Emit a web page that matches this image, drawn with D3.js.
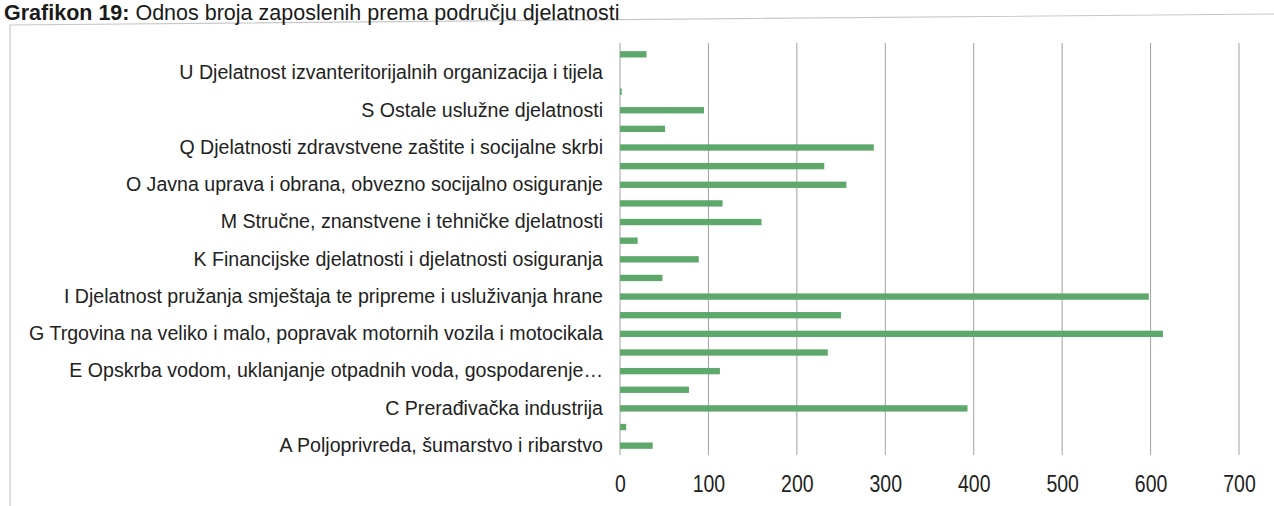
<!DOCTYPE html>
<html>
<head>
<meta charset="utf-8">
<script src="https://cdn.jsdelivr.net/npm/d3@7"></script>
<style>
  html, body { margin: 0; padding: 0; background: #fff; }
  svg { display: block; }
</style>
</head>
<body>
<svg id="chart" width="1274" height="506"></svg>
<script>
// ---- data (bottom to top) ----
const categories = [
  "A Poljoprivreda, šumarstvo i ribarstvo",
  "B Rudarstvo i vađenje",
  "C Prerađivačka industrija",
  "D Opskrba električnom energijom, plinom, parom i klimatizacija",
  "E Opskrba vodom, uklanjanje otpadnih voda, gospodarenje…",
  "F Građevinarstvo",
  "G Trgovina na veliko i malo, popravak motornih vozila i motocikala",
  "H Prijevoz i skladištenje",
  "I Djelatnost pružanja smještaja te pripreme i usluživanja hrane",
  "J Informacije i komunikacije",
  "K Financijske djelatnosti i djelatnosti osiguranja",
  "L Poslovanje nekretninama",
  "M Stručne, znanstvene i tehničke djelatnosti",
  "N Administrativne i pomoćne uslužne djelatnosti",
  "O Javna uprava i obrana, obvezno socijalno osiguranje",
  "P Obrazovanje",
  "Q Djelatnosti zdravstvene zaštite i socijalne skrbi",
  "R Umjetnost, zabava i rekreacija",
  "S Ostale uslužne djelatnosti",
  "T Djelatnosti kućanstava kao poslodavaca",
  "U Djelatnost izvanteritorijalnih organizacija i tijela",
  "Nepoznato"
];
const values = [37, 7, 393, 78, 113, 235, 614, 250, 598, 48, 89, 20, 160, 116, 256, 231, 287, 51, 95, 2, 0, 30];
const xTicks = [0, 100, 200, 300, 400, 500, 600, 700];
const titleBold = "Grafikon 19:";
const titleRest = " Odnos broja zaposlenih prema području djelatnosti";

// ---- drawing ----
const svg = d3.select("#chart");
const FONT = "'Liberation Sans', Arial, sans-serif";

// frame (slightly skewed scan)
svg.append("path")
  .attr("d", "M10,506 L10,25 L1274,14")
  .attr("fill", "none").attr("stroke", "#c8c8c8").attr("stroke-width", 1.2);

// title
const t = svg.append("text").attr("x", 4).attr("y", 20)
  .attr("font-family", FONT)
  .attr("font-size", 21.5).attr("fill", "#1a1a1a");
t.append("tspan").attr("font-weight", "bold").text(titleBold);
t.append("tspan").text(titleRest);

const x = d3.scaleLinear().domain([0, 700]).range([620, 1239]);
const y = d3.scaleBand().domain(categories).range([455, 45]).paddingInner(0.66).paddingOuter(0.33);

// gridlines
svg.append("g").selectAll("line").data(xTicks).join("line")
  .attr("x1", d => x(d)).attr("x2", d => x(d))
  .attr("y1", 43).attr("y2", 455)
  .attr("stroke", "#a0a0a0").attr("stroke-width", 1);

// bars
svg.append("g").selectAll("rect").data(categories).join("rect")
  .attr("x", x(0)).attr("y", d => y(d))
  .attr("width", (d, i) => x(values[i]) - x(0))
  .attr("height", y.bandwidth())
  .attr("fill", "#5fa86b");

// y labels (every other)
const yAxis = d3.axisLeft(y).tickSize(0).tickPadding(17)
  .tickValues(categories.filter((d, i) => i % 2 === 0));
const ya = svg.append("g").attr("transform", `translate(${x(0)},0)`).call(yAxis);
ya.select(".domain").remove();
ya.selectAll("text").attr("font-family", FONT).attr("font-size", 19.6).attr("fill", "#222");

// x tick labels (vertically stretched like the scan)
const xAxis = d3.axisBottom(x).tickValues(xTicks).tickSize(0).tickPadding(0);
const xa = svg.append("g").attr("transform", "translate(0,0)").call(xAxis);
xa.select(".domain").remove();
xa.selectAll(".tick text")
  .attr("font-family", FONT).attr("font-size", 19.5).attr("fill", "#222")
  .attr("dy", null).attr("y", 0)
  .attr("transform", "translate(0,492) scale(1,1.27)");
</script>
</body>
</html>
